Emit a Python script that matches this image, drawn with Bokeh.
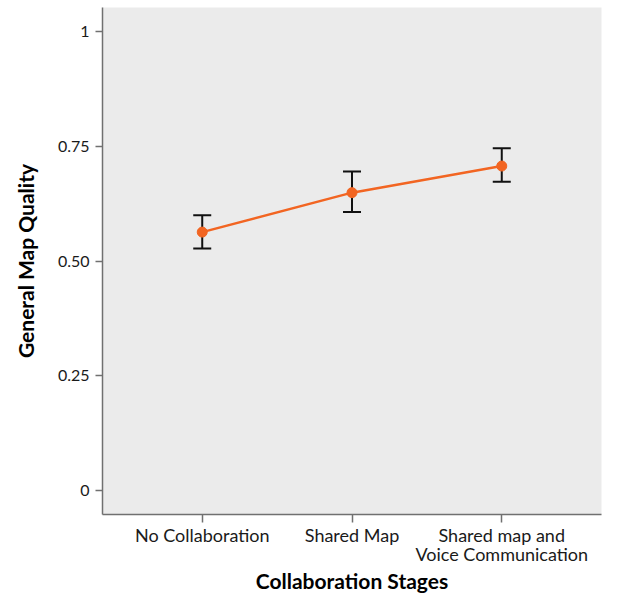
from bokeh.plotting import figure
from bokeh.models import FixedTicker, Range1d, ColumnDataSource
from bokeh.embed import file_html
from bokeh.resources import INLINE

categories = ["No Collaboration", "Shared Map", "Shared map and\nVoice Communication"]
means = [0.563, 0.649, 0.707]
upper = [0.600, 0.695, 0.746]
lower = [0.527, 0.607, 0.673]
y_ticks = [0, 0.25, 0.5, 0.75, 1]
y_tick_labels = ["0", "0.25", "0.50", "0.75", "1"]

xs = list(range(len(categories)))
src = ColumnDataSource(dict(x=xs, m=means, u=upper, l=lower))

FONT = "Lato"

p = figure(width=602, height=596, output_backend="svg", toolbar_location=None,
           x_range=Range1d(-0.666, len(categories) - 1 + 0.666),
           y_range=Range1d(-0.0526, 1.0526),
           min_border_left=102, min_border_right=1, min_border_top=7, min_border_bottom=70)

p.background_fill_color = "#ebebeb"
p.border_fill_color = "white"
p.outline_line_color = None
p.grid.visible = False

# error bars
p.segment(x0="x", y0="l", x1="x", y1="u", source=src, line_color="#111111", line_width=2)
p.scatter(x="x", y="u", source=src, marker="dash", size=18, line_color="#111111", line_width=2)
p.scatter(x="x", y="l", source=src, marker="dash", size=18, line_color="#111111", line_width=2)

# mean line and points
p.line(x="x", y="m", source=src, line_color="#f26522", line_width=2.5)
p.scatter(x="x", y="m", source=src, size=10, fill_color="#f26522", line_color="#f26522")

for ax in (p.xaxis[0], p.yaxis[0]):
    ax.axis_line_color = "#707070"
    ax.axis_line_width = 1.5
    ax.major_tick_line_color = "#707070"
    ax.major_tick_line_width = 1.5
    ax.major_tick_in = 0
    ax.minor_tick_line_color = None
    ax.major_label_text_font = FONT
    ax.major_label_text_color = "#1a1a1a"
    ax.axis_label_text_font = FONT
    ax.axis_label_text_font_style = "bold"
    ax.axis_label_text_font_size = "21px"
    ax.axis_label_text_line_height = 1.0
    ax.axis_label_text_color = "#000000"

p.xaxis.ticker = FixedTicker(ticks=xs)
p.xaxis.major_label_overrides = {i: c for i, c in enumerate(categories)}
p.xaxis.major_label_text_font_size = "18px"
p.xaxis.major_label_text_line_height = 0.9
p.xaxis.major_tick_out = 8
p.xaxis.major_label_standoff = 1
p.xaxis.axis_label = "Collaboration Stages"
p.xaxis.axis_label_standoff = 0

p.yaxis.ticker = FixedTicker(ticks=y_ticks)
p.yaxis.major_label_overrides = {t: l for t, l in zip(y_ticks, y_tick_labels)}
p.yaxis.major_label_text_font_size = "16px"
p.yaxis.major_tick_out = 7
p.yaxis.major_label_standoff = 6
p.yaxis.axis_label = "General Map Quality"
p.yaxis.axis_label_standoff = 17

open("out.html", "w").write(file_html(p, INLINE))
